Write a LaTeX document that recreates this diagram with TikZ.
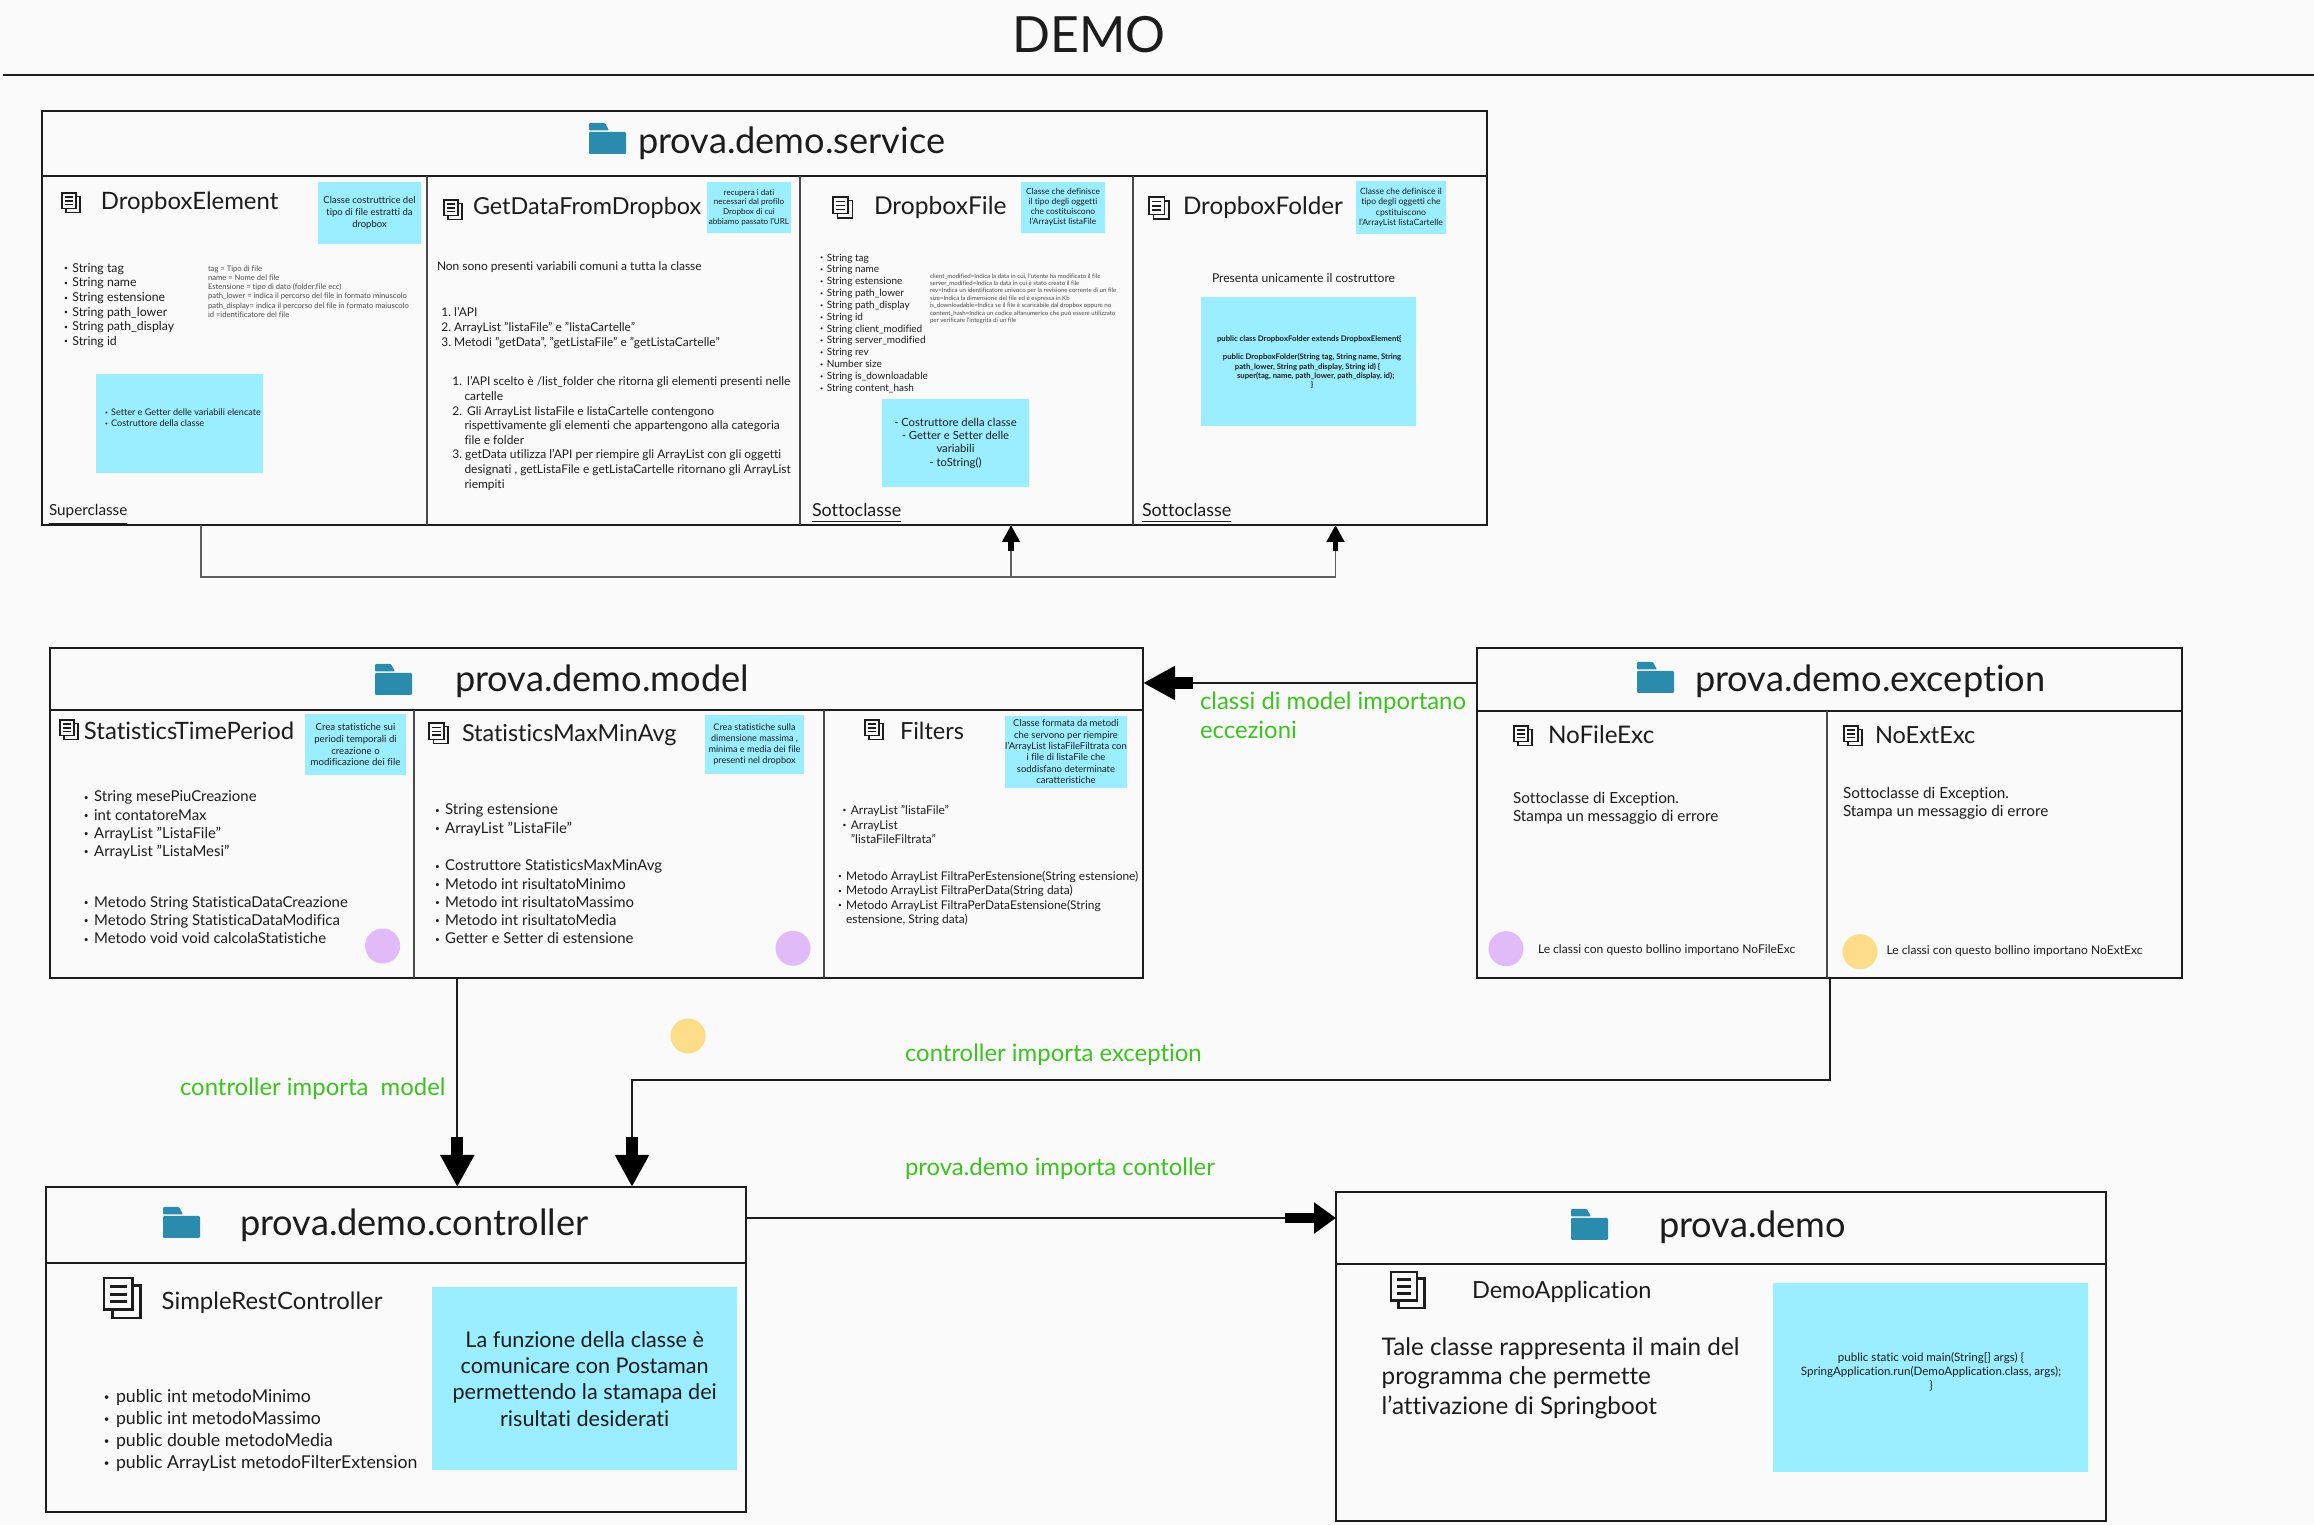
\documentclass[tikz,border=0pt]{standalone}
\usepackage{fontspec}
\setmainfont[Ligatures={NoCommon,NoRare,NoContextual}]{Lato}
\usetikzlibrary{arrows.meta}
\definecolor{pagegrey}{HTML}{FAFAFA}
\definecolor{stickyblue}{HTML}{9BEEFF}
\definecolor{folderblue}{HTML}{2A8BAD}
\definecolor{inkgrey}{HTML}{1C1C1C}
\definecolor{notegrey}{HTML}{4A4A4A}
\definecolor{labelgreen}{HTML}{3CC31E}
\definecolor{dotlilac}{HTML}{E0BBF8}
\definecolor{dotyellow}{HTML}{FEDD8A}
\newcommand{\fnt}[2]{\fontsize{#1}{#2}\selectfont}
\newcommand{\bul}{\makebox[.68em][l]{\raisebox{.12em}{\scalebox{.55}{\textbullet}}}}
\newcommand{\num}[1]{\makebox[1.1em][r]{#1}}
\tikzset{
  every node/.style={inner sep=0pt, outer sep=0pt, text=inkgrey},
  pkgbox/.style={draw=inkgrey, line width=.75pt, rectangle, anchor=north west},
  rulebar/.style={draw=inkgrey, line width=.75pt},
  celledge/.style={draw=inkgrey!80, line width=.35pt},
  sticky/.style={fill=stickyblue, rectangle, align=center},
  pkgtitle/.style={anchor=west, yshift=-.025cm, font=\fnt{10.3}{12.4}},
  classname/.style={anchor=west, yshift=-.01cm, font=\fnt{#1}{8.4}},
  txt/.style={anchor=west, align=left, yshift=-.015cm},
  dot/.style={circle, minimum size=.35cm},
  link/.style={draw=inkgrey, line width=.55pt},
  thinlink/.style={draw=inkgrey!70, line width=.3pt},
  fatbig/.style={draw=black, line width=3.4pt, -{Triangle[length=.32cm,width=.32cm]}},
  fatmid/.style={draw=black, line width=3pt, -{Triangle[length=.22cm,width=.3cm]}},
  fatsmall/.style={draw=black, line width=1.6pt, -{Triangle[length=.17cm,width=.17cm]}},
  greenlabel/.style={anchor=west, align=left, yshift=-.02cm, text=labelgreen, font=\fnt{6.8}{8.3}},
  pics/docicon/.style={code={
    \draw[inkgrey] (0,0) rectangle (.14,-.155);
    \draw[inkgrey] (.14,-.035) -- (.18,-.035) -- (.18,-.195) -- (.04,-.195) -- (.04,-.155);
    \foreach \y in {-.04,-.08,-.115}{
      \draw[inkgrey] (.03,\y) -- (.11,\y);
    }
  }},
  pics/foldericon/.style={code={
    \fill[folderblue, rounded corners=.3pt] (0,-.09) rectangle (.37,-.31);
    \fill[folderblue, rounded corners=.3pt] (0,0) -- (.16,0) -- (.2,-.075) -- (0,-.075) -- cycle;
  }},
}
\begin{document}
\begin{tikzpicture}
\useasboundingbox (0,0) rectangle (23.14,-15.25);
\fill[pagegrey] (0,0) rectangle (23.14,-15.25);

% title
\node (demotitle) [font=\fnt{14.2}{17}] at (10.89,-.35) {DEMO};
\draw[rulebar, line width=.45pt] (.03,-.75) -- (23.14,-.75);

% packages
\node (service) [pkgbox, minimum width=14.45cm, minimum height=4.14cm] at (.42,-1.11) {};
\node (model) [pkgbox, minimum width=10.93cm, minimum height=3.3cm] at (.5,-6.48) {};
\node (exception) [pkgbox, minimum width=7.05cm, minimum height=3.3cm] at (14.77,-6.48) {};
\node (controller) [pkgbox, minimum width=7cm, minimum height=3.25cm] at (.46,-11.87) {};
\node (demo) [pkgbox, minimum width=7.7cm, minimum height=3.29cm] at (13.36,-11.92) {};

\draw[rulebar] (.42,-1.76) -- (14.87,-1.76);
\draw[rulebar] (.5,-7.1) -- (11.43,-7.1);
\draw[rulebar] (14.77,-7.11) -- (21.82,-7.11);
\draw[rulebar] (.46,-12.63) -- (7.46,-12.63);
\draw[rulebar] (13.36,-12.64) -- (21.06,-12.64);
\foreach \x in {4.27,8,11.33}{
  \draw[celledge] (\x,-1.76) -- (\x,-5.25);
}
\foreach \x in {4.14,8.24}{
  \draw[celledge] (\x,-7.1) -- (\x,-9.78);
}
\draw[celledge] (18.27,-7.11) -- (18.27,-9.78);

% package titles
\pic at (5.89,-1.23) {foldericon};
\node (servicetitle) [pkgtitle] at (6.38,-1.41) {prova.demo.service};
\pic at (3.75,-6.64) {foldericon};
\node (modeltitle) [pkgtitle] at (4.55,-6.79) {prova.demo.model};
\pic at (16.37,-6.62) {foldericon};
\node (exceptiontitle) [pkgtitle] at (16.95,-6.79) {prova.demo.exception};
\pic at (1.63,-12.07) {foldericon};
\node (controllertitle) [pkgtitle] at (2.4,-12.23) {prova.demo.controller};
\pic at (15.71,-12.09) {foldericon};
\node (demoname) [pkgtitle] at (16.59,-12.25) {prova.demo};

% DropboxElement
\pic[line width=.4pt] at (.62,-1.93) {docicon};
\node (elementname) [classname=6.8] at (1.01,-2.02) {DropboxElement};
\node (elementnote) [sticky, minimum width=1.03cm, minimum height=.62cm, font=\fnt{2.7}{3.33}] at (3.695,-2.13) {Classe costruttrice del\\tipo di file estratti da\\dropbox};
\node (elementvars) [txt, font=\fnt{3.5}{4.15}] at (.64,-3.04) {\bul String tag\\\bul String name\\\bul String estensione\\\bul String path\_lower\\\bul String path\_display\\\bul String id};
\node (elementhelp) [txt, text=notegrey, font=\fnt{2.17}{2.62}] at (2.08,-2.9) {tag = Tipo di file\\name = Nome del file\\Estensione = tipo di dato (folder,file ecc)\\path\_lower = indica il percorso del file in formato minuscolo\\path\_display= indica il percorso del file in formato maiuscolo\\id =identificatore del file};
\node (elementbox) [sticky, minimum width=1.67cm, minimum height=.99cm] at (1.795,-4.235) {};
\node (elementmeth) [txt, font=\fnt{2.58}{3.13}] at (1.05,-4.165) {\bul Setter e Getter delle variabili elencate\\\bul Costruttore della classe};
\node (superlabel) [txt, font=\fnt{4.35}{5.2}] at (.49,-5.135) {\underline{Superclasse}};

% GetDataFromDropbox
\pic[line width=.4pt] at (4.44,-2) {docicon};
\node (getdataname) [classname=6.65] at (4.73,-2.07) {GetDataFromDropbox};
\node (getdatanote) [sticky, minimum width=.84cm, minimum height=.51cm, font=\fnt{2.3}{2.76}] at (7.49,-2.075) {recupera i dati\\necessari dal profilo\\Dropbox di cui\\abbiamo passato l'URL};
\node (getdatanone) [txt, font=\fnt{3.4}{4.15}] at (4.37,-2.66) {Non sono presenti variabili comuni a tutta la classe};
\node (getdatalist) [txt, font=\fnt{3.4}{4.15}] at (4.38,-3.265) {\num{1.} l'API\\\num{2.} ArrayList "listaFile" e "listaCartelle"\\\num{3.} Metodi "getData", "getListaFile" e "getListaCartelle"};
\node (getdatadesc) [txt, font=\fnt{3.4}{4.15}] at (4.49,-4.32) {\num{1.} \,l'API scelto è /list\_folder che ritorna gli elementi presenti nelle\\\hspace*{1.3em}cartelle\\\num{2.} \,Gli ArrayList listaFile e listaCartelle contengono\\\hspace*{1.3em}rispettivamente gli elementi che appartengono alla categoria\\\hspace*{1.3em}file e folder\\\num{3.} getData utilizza l'API per riempire gli ArrayList con gli oggetti\\\hspace*{1.3em}designati , getListaFile e getListaCartelle ritornano gli ArrayList\\\hspace*{1.3em}riempiti};

% DropboxFile
\pic[line width=.4pt, scale=1.08] at (8.33,-1.97) {docicon};
\node (filename) [classname=7] at (8.74,-2.07) {DropboxFile};
\node (filenote) [sticky, minimum width=.84cm, minimum height=.51cm, font=\fnt{2.4}{2.85}] at (10.63,-2.075) {Classe che definisce\\il tipo degli oggetti\\che costituiscono\\l'ArrayList listaFile};
\node (filevars) [txt, font=\fnt{2.85}{3.37}] at (8.2,-3.22) {\bul String tag\\\bul String name\\\bul String estensione\\\bul String path\_lower\\\bul String path\_display\\\bul String id\\\bul String client\_modified\\\bul String server\_modified\\\bul String rev\\\bul Number size\\\bul String is\_downloadable\\\bul String content\_hash};
\node (filehelp) [txt, text=notegrey, font=\fnt{1.73}{2.1}] at (9.3,-2.97) {client\_modified=Indica la data in cui, l'utente ha modificato il file\\server\_modified=Indica la data in cui è stato creato il file\\rev=Indica un identificatore univoco per la revisione corrente di un file\\size=Indica la dimensione del file ed è espressa in Kb\\is\_downloadable=Indica se il file è scaricabile dal dropbox oppure no\\content\_hash=Indica un codice alfanumerico che può essere utilizzato\\per verificare l'integrità di un file};
\node (filebox) [sticky, minimum width=1.47cm, minimum height=.88cm, font=\fnt{3.2}{3.79}] at (9.555,-4.43) {- Costruttore della classe\\- Getter e Setter delle\\variabili\\- toString()};
\node (filelabel) [txt, font=\fnt{5.1}{6.1}] at (8.12,-5.117) {\underline{Sottoclasse}};

% DropboxFolder
\pic[line width=.4pt, scale=1.12] at (11.49,-1.97) {docicon};
\node (foldername) [classname=6.9] at (11.83,-2.07) {DropboxFolder};
\node (foldernote) [sticky, minimum width=.9cm, minimum height=.53cm, font=\fnt{2.45}{2.93}] at (14.01,-2.075) {Classe che definisce il\\tipo degli oggetti che\\cpstituiscono\\l'ArrayList listaCartelle};
\node (folderonly) [txt, font=\fnt{3.45}{4.15}] at (12.12,-2.77) {Presenta unicamente il costruttore};
\node (folderbox) [sticky, minimum width=2.15cm, minimum height=1.29cm] at (13.085,-3.615) {};
\node (foldercode) [txt, font=\fnt{2.2}{2.64}\bfseries] at (12.17,-3.605) {public class DropboxFolder extends DropboxElement\{\\[2.64pt]\hspace*{1.7pt}public DropboxFolder(String tag, String name, String\\\hspace*{5.1pt}path\_lower, String path\_display, String id) \{\\\hspace*{5.7pt}super(tag, name, path\_lower, path\_display, id);\\\hspace*{26.7pt}\}};
\node (filelabelb) [txt, font=\fnt{5.1}{6.1}] at (11.42,-5.117) {\underline{Sottoclasse}};

% StatisticsTimePeriod
\pic[line width=.4pt] at (.6,-7.2) {docicon};
\node (timename) [classname=6.8] at (.84,-7.3) {StatisticsTimePeriod};
\node (timenote) [sticky, minimum width=1.01cm, minimum height=.61cm, font=\fnt{2.75}{3.41}] at (3.555,-7.445) {Crea statistiche sui\\periodi temporali di\\creazione o\\modificazione dei file};
\node (timevars) [txt, font=\fnt{4.25}{5.18}] at (.84,-8.235) {\bul String mesePiuCreazione\\\bul int contatoreMax\\\bul ArrayList "ListaFile"\\\bul ArrayList "ListaMesi"};
\node (timemeth) [txt, font=\fnt{4.25}{5.18}] at (.84,-9.187) {\bul Metodo String StatisticaDataCreazione\\\bul Metodo String StatisticaDataModifica\\\bul Metodo void void calcolaStatistiche};
\node (timedot) [dot, fill=dotlilac] at (3.826,-9.46) {};

% StatisticsMaxMinAvg
\pic[line width=.4pt, scale=1.06] at (4.29,-7.23) {docicon};
\node (maxminname) [classname=6.65] at (4.62,-7.34) {StatisticsMaxMinAvg};
\node (maxminnote) [sticky, minimum width=.99cm, minimum height=.59cm, font=\fnt{2.6}{3.13}] at (7.545,-7.442) {Crea statistiche sulla\\dimensione massima ,\\minima e media dei file\\presenti nel dropbox};
\node (maxminvars) [txt, font=\fnt{4.25}{5.18}] at (4.35,-8.183) {\bul String estensione\\\bul ArrayList "ListaFile"};
\node (maxminmeth) [txt, font=\fnt{4.25}{5.18}] at (4.35,-9.005) {\bul Costruttore StatisticsMaxMinAvg\\\bul Metodo int risultatoMinimo\\\bul Metodo int risultatoMassimo\\\bul Metodo int risultatoMedia\\\bul Getter e Setter di estensione};
\node (maxmindot) [dot, fill=dotlilac] at (7.93,-9.483) {};

% Filters
\pic[line width=.4pt] at (8.65,-7.2) {docicon};
\node (filtersname) [classname=6.7] at (9,-7.3) {Filters};
\node (filtersnote) [sticky, minimum width=1.22cm, minimum height=.72cm, font=\fnt{2.7}{3.24}] at (10.66,-7.518) {Classe formata da metodi\\che servono per riempire\\l'ArrayList listaFileFiltrata con\\i file di listaFile che\\soddisfano determinate\\caratteristiche};
\node (filtersvars) [txt, font=\fnt{3.4}{4.15}] at (8.427,-8.23) {\bul ArrayList "listaFile"\\\bul ArrayList\\\hspace*{.68em}"listaFileFiltrata"};
\node (filtersmeth) [txt, font=\fnt{3.4}{4.15}] at (8.38,-8.97) {\bul Metodo ArrayList FiltraPerEstensione(String estensione)\\\bul Metodo ArrayList FiltraPerData(String data)\\\bul Metodo ArrayList FiltraPerDataEstensione(String\\\hspace*{.68em}estensione, String data)};

% exception classes
\pic[line width=.4pt] at (15.14,-7.26) {docicon};
\node (nofilename) [classname=6.9] at (15.48,-7.34) {NoFileExc};
\node (nofiletext) [txt, font=\fnt{4.35}{5.2}] at (15.13,-8.067) {Sottoclasse di Exception.\\Stampa un messaggio di errore};
\node (nofiledot) [dot, fill=dotlilac] at (15.06,-9.487) {};
\node (nofilenote) [txt, font=\fnt{3.43}{4.2}] at (15.38,-9.49) {Le classi con questo bollino importano NoFileExc};
\pic[line width=.4pt] at (18.44,-7.26) {docicon};
\node (noextname) [classname=6.7] at (18.75,-7.34) {NoExtExc};
\node (noexttext) [txt, font=\fnt{4.35}{5.2}] at (18.43,-8.02) {Sottoclasse di Exception.\\Stampa un messaggio di errore};
\node (noextdot) [dot, fill=dotyellow] at (18.6,-9.517) {};
\node (noextnote) [txt, font=\fnt{3.43}{4.2}] at (18.867,-9.5) {Le classi con questo bollino importano NoExtExc};

% SimpleRestController
\pic[line width=.8pt, scale=2.05] at (1.04,-12.78) {docicon};
\node (restname) [txt, font=\fnt{6.8}{8}] at (1.617,-13.017) {SimpleRestController};
\node (restmeth) [txt, font=\fnt{5.03}{6.26}] at (1.04,-14.287) {\bul public int metodoMinimo\\\bul public int metodoMassimo\\\bul public double metodoMedia\\\bul public ArrayList metodoFilterExtension};
\node (restbox) [sticky, minimum width=3.054cm, minimum height=1.833cm, font=\fnt{6.15}{7.5}] at (5.847,-13.787) {La funzione della classe è\\comunicare con Postaman\\permettendo la stamapa dei\\risultati desiderati};

% DemoApplication
\pic[line width=.75pt, scale=1.85] at (13.91,-12.72) {docicon};
\node (appname) [txt, font=\fnt{6.7}{8}] at (14.72,-12.907) {DemoApplication};
\node (apptext) [txt, font=\fnt{6.9}{8.36}] at (13.817,-13.765) {Tale classe rappresenta il main del\\programma che permette\\l'attivazione di Springboot};
\node (appbox) [sticky, minimum width=3.142cm, minimum height=1.887cm] at (19.304,-13.773) {};
\node (appcode) [align=center, font=\fnt{3.3}{3.98}] at (19.31,-13.715) {public static void main(String[] args) \{\\SpringApplication.run(DemoApplication.class, args);\\\}};

% imports
\coordinate (elementx) at (2.01,0);
\coordinate (filex) at (10.11,0);
\coordinate (folderx) at (13.355,0);
\coordinate (bendtop) at (0,-5.77);
\draw[thinlink] (service.south -| elementx) -- (elementx |- bendtop) -- (folderx |- bendtop) -- (service.south -| folderx);
\draw[thinlink] (filex |- bendtop) -- (service.south -| filex);
\coordinate (fileshaft) at (10.11,-5.51);
\coordinate (foldershaft) at (13.355,-5.51);
\draw[fatsmall] (fileshaft) -- (service.south -| fileshaft);
\draw[fatsmall] (foldershaft) -- (service.south -| foldershaft);

\coordinate (excy) at (0,-6.83);
\coordinate (excshaft) at (11.93,-6.83);
\draw[link] (exception.west |- excy) -- (excshaft);
\draw[fatbig] (excshaft) -- (model.east |- excy);
\node (exclabel) [greenlabel] at (12,-7.135) {classi di model importano\\eccezioni};

\coordinate (modelx) at (4.573,0);
\coordinate (modelshaft) at (4.573,-11.37);
\draw[link] (model.south -| modelx) -- (modelshaft);
\draw[fatbig] (modelshaft) -- (controller.north -| modelx);
\node (modellabel) [greenlabel] at (1.8,-10.87) {controller importa\ \ model};

\coordinate (excx) at (18.3,0);
\coordinate (ctrlx) at (6.32,0);
\coordinate (bendlow) at (0,-10.8);
\coordinate (ctrlshaft) at (6.32,-11.37);
\draw[link] (exception.south -| excx) -- (excx |- bendlow) -- (ctrlx |- bendlow) -- (ctrlshaft);
\draw[fatbig] (ctrlshaft) -- (controller.north -| ctrlx);
\node (exclabelb) [greenlabel] at (9.05,-10.53) {controller importa exception};

\coordinate (runy) at (0,-12.18);
\coordinate (runshaft) at (12.85,-12.18);
\draw[link] (controller.east |- runy) -- (runshaft);
\draw[fatmid] (runshaft) -- (demo.west |- runy);
\node (runlabel) [greenlabel] at (9.05,-11.67) {prova.demo importa contoller};

\node (floatdot) [dot, fill=dotyellow] at (6.88,-10.36) {};
\end{tikzpicture}
\end{document}
